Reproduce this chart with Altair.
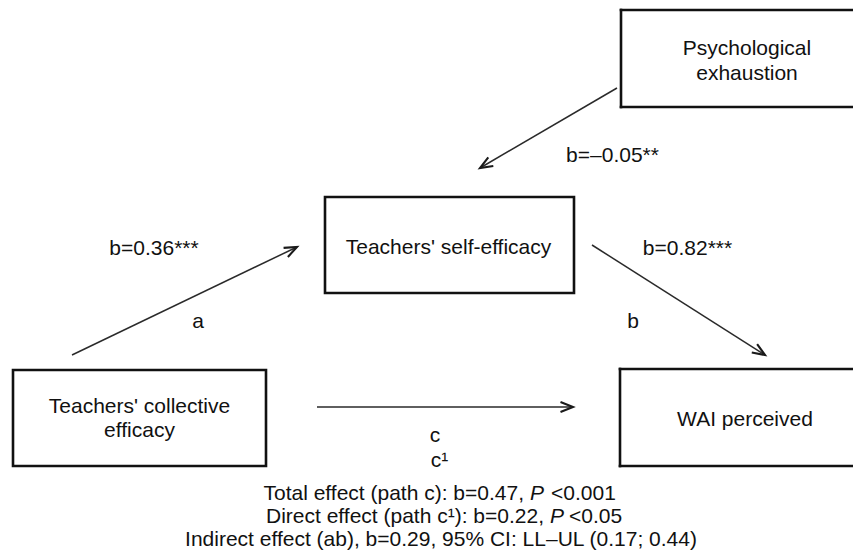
import math
import altair as alt
import pandas as pd

# ---------------- content (values / texts) ----------------
node_lines = [
    ["Psychological", "exhaustion"],
    ["Teachers' self-efficacy"],
    ["Teachers' collective", "efficacy"],
    ["WAI perceived"],
]
coef_labels = ["b=0.36***", "b=–0.05**", "b=0.82***"]
path_labels = ["a", "b", "c", "c¹"]
summary_left = ["Total effect (path c): b=0.47,", "Direct effect (path c¹): b=0.22,"]
summary_p = ["P", "P"]
summary_right = ["<0.001", "<0.05"]
summary_full = ["Indirect effect (ab), b=0.29, 95% CI: LL–UL (0.17; 0.44)"]

# ---------------- layout (diagram canvas, 861 x 550 page) ----------------
W, H = 845, 542
OX, OY = 8, 8
XMAX = OX + W

node_x0 = [621, 325, 13, 620]
node_x1 = [XMAX + 2, 574, 266, XMAX + 2]   # first and last boxes run off the right edge
node_open = [True, False, False, True]
node_y0 = [10, 197, 370, 369]
node_y1 = [107, 293, 466, 466]
node_tx = [747, 448.5, 139.5, 745]
node_ty = [[55, 80], [254], [413, 437], [426]]

# arrows: tail -> tip  (a, exhaustion->self, b, c)
arrow_x1 = [72, 617, 592, 317]
arrow_y1 = [355, 88, 245, 407]
arrow_x2 = [297, 480, 765, 573]
arrow_y2 = [247, 168, 355, 407]

coef_x = [154, 612.5, 687.5]
coef_y = [255, 162, 255]
path_x = [198, 633, 435, 439.5]
path_y = [328, 328, 442, 467]

sum_anchor_left = [524, 544]
sum_anchor_p = [530, 550]
sum_anchor_right = [551, 569]
sum_y = [500, 523]
full_x = [441]
full_y = [546]

FONT = "Liberation Sans, Arial, Helvetica, sans-serif"
FS = 21
INK = "#111111"
BOX_W = 2.6

xs = alt.Scale(domain=[OX, XMAX], nice=False, zero=False)
ys = alt.Scale(domain=[OY, OY + H], nice=False, zero=False, reverse=True)

def X(f="x"):
    return alt.X(f"{f}:Q", scale=xs, axis=None)

def Y(f="y"):
    return alt.Y(f"{f}:Q", scale=ys, axis=None)

# ---------------- tables ----------------
closed = [i for i, o in enumerate(node_open) if not o]
opened = [i for i, o in enumerate(node_open) if o]
boxes = pd.DataFrame({
    "x": [node_x0[i] for i in closed], "x2": [node_x1[i] for i in closed],
    "y": [node_y0[i] for i in closed], "y2": [node_y1[i] for i in closed],
})
edge_rows = []
for i in opened:
    edge_rows.append({"x": node_x0[i], "x2": node_x1[i], "y": node_y0[i], "y2": node_y0[i]})
    edge_rows.append({"x": node_x0[i], "x2": node_x1[i], "y": node_y1[i], "y2": node_y1[i]})
    edge_rows.append({"x": node_x0[i], "x2": node_x0[i], "y": node_y0[i], "y2": node_y1[i]})
edges = pd.DataFrame(edge_rows)

node_rows = []
for i, lines in enumerate(node_lines):
    for j, t in enumerate(lines):
        node_rows.append({"x": node_tx[i], "y": node_ty[i][j], "t": t})
node_text = pd.DataFrame(node_rows)

arrows = pd.DataFrame({"x": arrow_x1, "y": arrow_y1, "x2": arrow_x2, "y2": arrow_y2})
angles = [
    (math.degrees(math.atan2(y2 - y1, x2 - x1)) + 360) % 360
    for x1, y1, x2, y2 in zip(arrow_x1, arrow_y1, arrow_x2, arrow_y2)
]
heads = pd.DataFrame({"x": arrow_x2, "y": arrow_y2, "ang": angles})

labels = pd.DataFrame({
    "x": coef_x + path_x,
    "y": coef_y + path_y,
    "t": coef_labels + path_labels,
})
sum_l = pd.DataFrame({"x": sum_anchor_left, "y": sum_y, "t": summary_left})
sum_p = pd.DataFrame({"x": sum_anchor_p, "y": sum_y, "t": summary_p})
sum_r = pd.DataFrame({"x": sum_anchor_right, "y": sum_y, "t": summary_right})
sum_f = pd.DataFrame({"x": full_x, "y": full_y, "t": summary_full})

# ---------------- layers ----------------
rect_layer = alt.Chart(boxes).mark_rect(
    fill="white", stroke=INK, strokeWidth=BOX_W
).encode(x=X(), x2="x2:Q", y=Y(), y2="y2:Q")

edge_layer = alt.Chart(edges).mark_rule(
    color=INK, strokeWidth=BOX_W, strokeCap="square"
).encode(x=X(), x2="x2:Q", y=Y(), y2="y2:Q")

line_layer = alt.Chart(arrows).mark_rule(
    color="#2a2a2a", strokeWidth=1.5
).encode(x=X(), x2="x2:Q", y=Y(), y2="y2:Q")

head_layer = alt.Chart(heads).mark_point(
    shape="M -1.25 -0.5 L 0 0 L -1.25 0.5",
    filled=False, size=400, strokeWidth=2.1, color="#1a1a1a", opacity=1,
    strokeJoin="miter",
).encode(x=X(), y=Y(), angle=alt.Angle("ang:Q", scale=None))

def text_layer(df, align, style="normal"):
    return alt.Chart(df).mark_text(
        align=align, baseline="alphabetic", font=FONT, fontSize=FS,
        fontStyle=style, color=INK,
    ).encode(x=X(), y=Y(), text="t:N")

chart = alt.layer(
    rect_layer,
    edge_layer,
    line_layer,
    head_layer,
    text_layer(node_text, "center"),
    text_layer(labels, "center"),
    text_layer(sum_l, "right"),
    text_layer(sum_p, "left", "italic"),
    text_layer(sum_r, "left"),
    text_layer(sum_f, "center"),
).properties(
    width=W, height=H, padding=0, autosize=alt.AutoSizeParams(type="none"),
    background="white",
).configure_view(stroke=None)

chart.save("out.html", embed_options={"renderer": "svg", "actions": False})
